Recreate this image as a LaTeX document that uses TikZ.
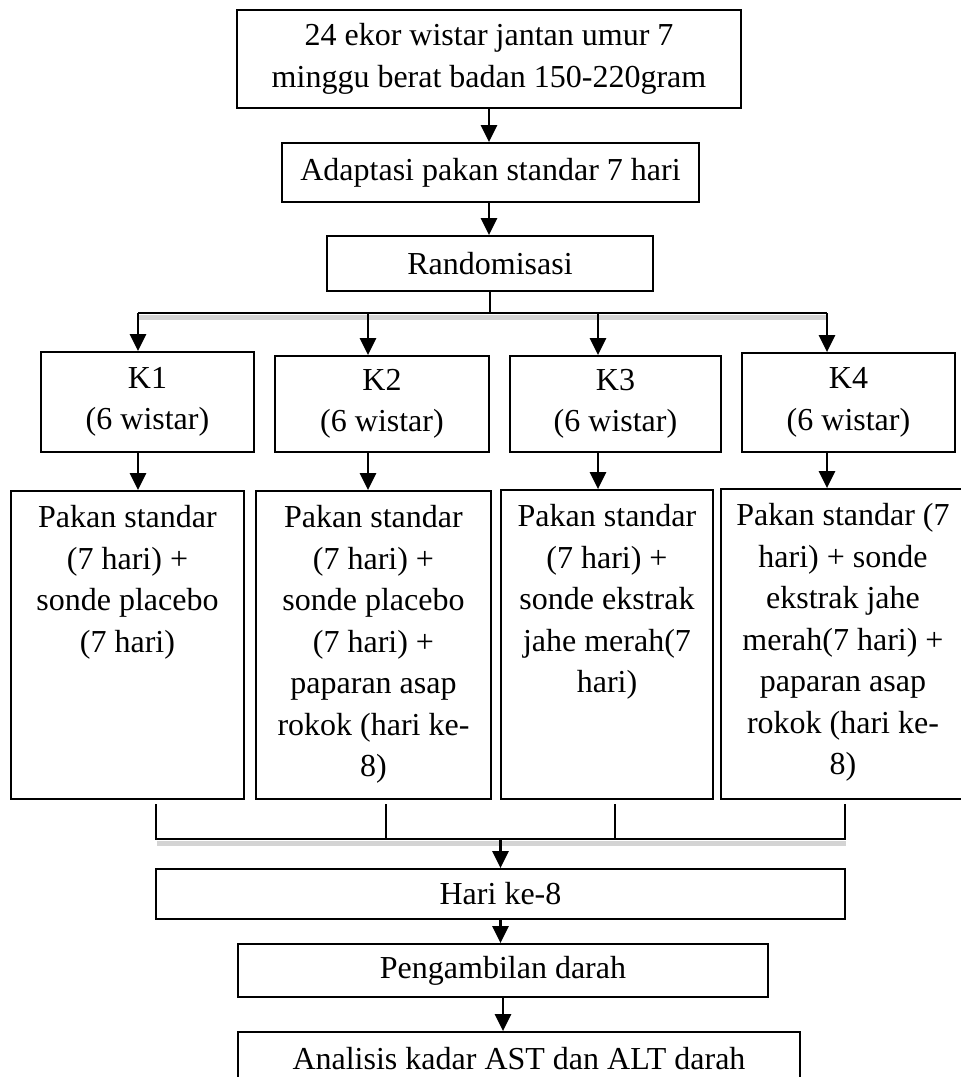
\documentclass[tikz,border=0pt]{standalone}
\usepackage{fontspec}
\setmainfont{Liberation Serif}
\usetikzlibrary{arrows.meta}
\begin{document}
\begin{tikzpicture}[x=1pt,y=-1pt,
  box/.style={draw, line width=1.8pt, inner sep=0pt, align=center, font=\fontsize{32}{41.5}\selectfont},
  txt/.style={inner sep=0pt, align=center, font=\fontsize{32}{41.5}\selectfont},
  arr/.style={line width=2.4pt, -{Triangle[length=17pt,width=16pt]}},
  ln/.style={line width=2.4pt},
  shd/.style={line width=5pt, draw=black!17}]
\useasboundingbox (0,0) rectangle (961,1077);

% top chain
\node[box, minimum width=504pt, minimum height=98pt] (b1) at (489,59) {24 ekor wistar jantan umur 7\\minggu berat badan 150-220gram};
\node[box, minimum width=417pt, minimum height=59pt] (b2) at (490.5,172.5) {Adaptasi pakan standar 7 hari};
\node[box, minimum width=326pt, minimum height=55pt] (b3) at (490,263.5) {Randomisasi};

% groups
\node[box, minimum width=213pt, minimum height=100pt] (k1) at (147.5,402) {K1\\(6 wistar)};
\node[box, minimum width=214pt, minimum height=96pt] (k2) at (382,404) {K2\\(6 wistar)};
\node[box, minimum width=211pt, minimum height=96pt] (k3) at (615.5,404) {K3\\(6 wistar)};
\node[box, minimum width=213pt, minimum height=99pt] (k4) at (848.5,402.5) {K4\\(6 wistar)};

% treatment boxes
\node[box, minimum width=233pt, minimum height=308pt] (l1) at (127.5,645) {};
\node[box, minimum width=235pt, minimum height=308pt] (l2) at (373.5,645) {};
\node[box, minimum width=212pt, minimum height=309pt] (l3) at (607,644.5) {};
\node[box, minimum width=244pt, minimum height=310pt] (l4) at (843,644) {};
\node[txt, anchor=north, yshift=-15pt] (l1t) at (l1.north) {Pakan standar\\(7 hari) +\\sonde placebo\\(7 hari)};
\node[txt, anchor=north, yshift=-15pt] (l2t) at (l2.north) {Pakan standar\\(7 hari) +\\sonde placebo\\(7 hari) +\\paparan asap\\rokok (hari ke-\\8)};
\node[txt, anchor=north, yshift=-15pt] (l3t) at (l3.north) {Pakan standar\\(7 hari) +\\sonde ekstrak\\jahe merah(7\\hari)};
\node[txt, anchor=north, yshift=-15pt] (l4t) at (l4.north) {Pakan standar (7\\hari) + sonde\\ekstrak jahe\\merah(7 hari) +\\paparan asap\\rokok (hari ke-\\8)};

% bottom chain
\node[box, minimum width=689pt, minimum height=50pt] (hari) at (500.5,894) {Hari ke-8};
\node[box, minimum width=530pt, minimum height=53pt] (peng) at (503,970.5) {Pengambilan darah};
\node[box, minimum width=562pt, minimum height=53pt] (anal) at (519,1058.5) {Analisis kadar AST dan ALT darah};

% top connectors
\draw[arr] (b1.south) -- (b1.south |- b2.north);
\draw[arr] (b2.south -| b1.south) -- (b1.south |- b3.north);

\coordinate (j1) at (138,313);
\coordinate (j2) at (368,313);
\coordinate (j3) at (598,313);
\coordinate (j4) at (827,313);
\coordinate (jc) at (b3.south |- j1);

\draw[shd] ([shift={(1,4.5)}]j1) -- ([shift={(1,4.5)}]j4);
\draw[ln] (b3.south) -- (jc);
\draw[ln] (j1) -- (j4);
\draw[arr] (j1) -- (j1 |- k1.north);
\draw[arr] (j2) -- (j2 |- k2.north);
\draw[arr] (j3) -- (j3 |- k3.north);
\draw[arr] (j4) -- (j4 |- k4.north);

\draw[arr] (k1.south -| j1) -- (l1.north -| j1);
\draw[arr] (k2.south -| j2) -- (l2.north -| j2);
\draw[arr] (k3.south -| j3) -- (l3.north -| j3);
\draw[arr] (k4.south -| j4) -- (l4.north -| j4);

% bracket
\coordinate (t1) at (156,804);
\coordinate (t2) at (386,804);
\coordinate (t3) at (615,804);
\coordinate (t4) at (845,804);
\coordinate (mc) at (hari.north |- 0,839);
\draw[shd] ([shift={(1,4.5)}]t1 |- mc) -- ([shift={(1,4.5)}]t4 |- mc);
\draw[ln] (t1) -- (t1 |- mc) -- (t4 |- mc) -- (t4);
\draw[ln] (t2) -- (t2 |- mc);
\draw[ln] (t3) -- (t3 |- mc);
\draw[arr] (mc) -- (hari.north);

\draw[arr] (hari.south) -- (hari.south |- peng.north);
\draw[arr] (peng.south) -- (peng.south |- anal.north);
\end{tikzpicture}
\end{document}
